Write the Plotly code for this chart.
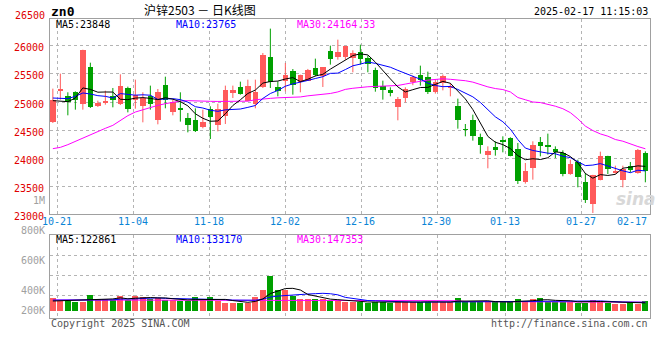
import plotly.graph_objects as go
import pandas as pd

# ---------------- data ----------------
dates = ["10-18","10-21","10-22","10-23","10-24","10-25","10-28","10-29","10-30","10-31",
         "11-01","11-04","11-05","11-06","11-07","11-08","11-11","11-12","11-13","11-14",
         "11-15","11-18","11-19","11-20","11-21","11-22","11-25","11-26","11-27","11-28",
         "11-29","12-02","12-03","12-04","12-05","12-06","12-09","12-10","12-11","12-12",
         "12-13","12-16","12-17","12-18","12-19","12-20","12-23","12-24","12-25","12-26",
         "12-27","12-30","12-31","01-02","01-03","01-06","01-07","01-08","01-09","01-10",
         "01-13","01-14","01-15","01-16","01-17","01-20","01-21","01-22","01-23","01-24",
         "01-27","02-05","02-06","02-07","02-10","02-11","02-12","02-13","02-14","02-17"]

opens = [24637,25202,25113,25173,24970,25631,24923,24976,25101,24958,
         25256,25030,24923,25113,24673,25309,24815,24887,24720,24685,
         24548,24875,24595,24744,25155,25268,25024,24970,25268,25809,
         25262,25369,25548,25351,25381,25607,25458,25905,25797,25797,
         25786,25887,25786,25565,25280,25220,24905,25065,25357,25488,
         25440,25173,25339,25262,24935,24512,24685,24369,24060,24196,
         24310,24357,24167,23566,23816,24286,24238,24155,24089,23720,
         23923,23577,23173,23613,24030,23740,23613,23851,23732,24089]
highs = [25238,25506,25173,25190,25934,25702,25024,25202,25250,25494,
         25274,25399,25173,25292,25232,25452,25048,25173,24804,24887,
         24863,24923,24970,25292,25292,25363,25399,25399,25875,26310,
         25369,25696,25589,25488,25590,25774,25619,26006,26113,26000,
         25923,26024,25830,25613,25381,25262,25089,25262,25470,25649,
         25542,25400,25490,25339,25060,24607,24774,24435,24208,24298,
         24387,24370,24268,23911,24298,24375,24435,24208,24137,23970,
         23970,23732,23700,24113,24040,23863,23863,23929,24160,24119]
lows = [24625,25042,24762,24863,24863,24893,24911,24952,24905,24946,
        24815,24881,24637,24863,24601,24887,24762,24649,24458,24464,
        24530,24339,24476,24607,25071,25131,25012,24887,25250,25250,
        25101,25190,25131,25173,25381,25458,25268,25667,25756,25756,
        25530,25667,25530,25184,25042,25101,24673,24994,25300,25292,
        25143,25150,25208,25101,24524,24387,24310,24077,23816,24042,
        24101,24030,23536,23542,23613,24030,24060,24000,23673,23700,
        23476,23197,23018,23601,23714,23720,23476,23740,23720,23566]
closes = [25042,25238,25006,25036,25934,24911,24988,25024,25030,25292,
          24875,25125,25071,24958,25184,25042,24994,24851,24583,24476,
          24643,24726,24881,25220,25220,25149,25292,25184,25845,25357,
          25190,25476,25309,25488,25565,25488,25619,25774,25887,25994,
          25869,25774,25679,25244,25208,25161,25054,25232,25446,25399,
          25173,25351,25470,25280,24673,24500,24399,24226,24131,24149,
          24292,24042,23595,23768,24238,24220,24203,24113,23708,23887,
          23655,23256,23690,24030,23810,23756,23804,23780,24149,23762]
volumes = [221,181,175,159,159,272,204,204,187,255,
           187,255,244,204,221,187,187,175,175,243,
           187,244,170,142,142,142,142,244,357,595,
           357,357,261,215,215,204,204,170,170,160,
           150,150,140,160,150,140,160,160,150,150,
           160,150,150,150,226,165,165,150,165,150,
           150,150,204,165,204,221,165,150,165,165,
           140,140,187,175,140,130,130,140,120,170]
volumes = [v * 1000 for v in volumes]

ma5_head = [25024, 25012, 25006, 25071]
ma10_head = [25071, 25071, 25060, 25101, 25161, 25143, 25113, 25101, 25071]
ma30 = [24167,24190,24238,24298,24357,24417,24476,24530,24583,24673,
        24756,24821,24863,24905,24940,24970,24994,25018,25024,25024,
        25024,25012,25010,25010,25012,25010,25015,25040,25058,25065,
        25075,25077,25078,25090,25110,25120,25135,25152,25180,25225,
        25245,25265,25272,25278,25282,25288,25295,25320,25350,25370,
        25390,25405,25415,25405,25398,25380,25355,25310,25270,25240,
        25222,25180,25080,25040,25000,24990,24960,24925,24880,24810,
        24700,24570,24490,24430,24390,24330,24300,24250,24205,24165]
vol_ma5_head = [170000, 175000, 178000, 180000]
vol_ma10_head = [185000, 185000, 185000, 185000, 185000, 185000, 186000, 187000, 190000]
vol_ma30 = [187000] * 45 + [175000] * 10 + [160000] * 10 + [150000] * 15

grid_dates = ["10-21", "11-04", "11-18", "12-02", "12-16", "12-30", "01-13", "01-27"]
last_date_label = "02-17"
price_ticks = [23000, 23500, 24000, 24500, 25000, 25500, 26000]
price_top_label = "26500"
vol_labels = ["800K", "600K", "400K", "200K"]
title_code = "zn0"
title_text = "沪锌2503 － 日K线图"
timestamp = "2025-02-17 11:15:03"
ma_texts = ["MA5:23848", "MA10:23765", "MA30:24164.33"]
vol_ma_texts = ["MA5:122861", "MA10:133170", "MA30:147353"]

# ---------------- helpers ----------------
W, H = 660, 360
PX_L, PX_R = 50, 650
def yp(px):
    return 1 - px / H
def xp(px):
    return px / W

RED = "#ff5a5a"
GREEN = "#00a000"
GRID = "#b4b4b4"
AXIS = "#a0a0a0"
MONO = "DejaVu Sans Mono"

n = len(closes)
idx = list(range(n))
c = pd.Series(closes, dtype=float)
ma5 = c.rolling(5).mean().tolist()
ma10 = c.rolling(10).mean().tolist()
ma5[:4] = ma5_head
ma10[:9] = ma10_head
v = pd.Series(volumes, dtype=float)
vma5 = v.rolling(5).mean().tolist()
vma10 = v.rolling(10).mean().tolist()
vma5[:4] = vol_ma5_head
vma10[:9] = vol_ma10_head

up = [closes[i] >= opens[i] for i in idx]

fig = go.Figure()

# wicks
for flag, col in ((True, RED), (False, GREEN)):
    xs, ys = [], []
    for i in idx:
        if up[i] == flag:
            xs += [i, i, None]
            ys += [lows[i], highs[i], None]
    fig.add_trace(go.Scatter(x=xs, y=ys, mode="lines", line=dict(color=col, width=1),
                             hoverinfo="skip", showlegend=False, xaxis="x", yaxis="y"))
# bodies
for flag, col in ((True, RED), (False, GREEN)):
    sel = [i for i in idx if up[i] == flag]
    fig.add_trace(go.Bar(x=sel,
                         base=[min(opens[i], closes[i]) for i in sel],
                         y=[max(abs(closes[i] - opens[i]), 12) for i in sel],
                         width=0.76, marker=dict(color=col, line=dict(width=0)),
                         showlegend=False, xaxis="x", yaxis="y"))
# moving averages
for arr, col in ((ma30, "#ff00ff"), (ma10, "#0000ff"), (ma5, "#000000")):
    fig.add_trace(go.Scatter(x=idx, y=arr, mode="lines", line=dict(color=col, width=1),
                             showlegend=False, xaxis="x", yaxis="y"))

# volume
fig.add_trace(go.Bar(x=idx, y=volumes, width=0.8,
                     marker=dict(color=[RED if u else GREEN for u in up], line=dict(width=0)),
                     showlegend=False, xaxis="x2", yaxis="y2"))
for arr, col in ((vol_ma30, "#ff00ff"), (vma10, "#0000ff"), (vma5, "#000000")):
    fig.add_trace(go.Scatter(x=idx, y=arr, mode="lines", line=dict(color=col, width=1),
                             showlegend=False, xaxis="x2", yaxis="y2"))

# the source chart spaces its date grid over (n-1) steps across the full width,
# while the candles use n equal slots
x0 = -0.38
xrange = [x0, n + x0]
grid_x = [dates.index(d) * n / (n - 1) + x0 for d in grid_dates]

VPX = 17000.0
vol_range = [-(318 - 311) * VPX, (311 - 234.7) * VPX]
vol_grid = [(311 - p) * VPX for p in (255.7, 275.3, 295.0)]

axis_common = dict(showline=True, linecolor=AXIS, linewidth=1, mirror=True,
                   zeroline=False, showgrid=True, gridcolor=GRID, griddash="dot", gridwidth=1)

fig.update_layout(
    width=W, height=H, margin=dict(l=0, r=0, t=0, b=0, pad=0, autoexpand=False),
    paper_bgcolor="white", plot_bgcolor="white", barmode="overlay", bargap=0,
    showlegend=False,
    xaxis=dict(domain=[xp(PX_L), xp(PX_R)], range=xrange, tickmode="array", tickvals=grid_x,
               showticklabels=False, ticks="", **axis_common),
    yaxis=dict(domain=[yp(214), yp(19)], range=[23000, 26482], tickmode="array",
               tickvals=price_ticks, ticktext=[str(t) for t in price_ticks],
               tickfont=dict(family=MONO, size=10, color="#e00000"), ticks="",
               ticklabelstandoff=3, ticklabelshift=2, **axis_common),
    xaxis2=dict(domain=[xp(PX_L), xp(PX_R)], range=xrange, tickmode="array", tickvals=grid_x,
                showticklabels=False, ticks="", anchor="y2", **axis_common),
    yaxis2=dict(domain=[yp(318), yp(234.7)], range=vol_range, tickmode="array",
                tickvals=vol_grid, showticklabels=False, ticks="", anchor="x2", **axis_common),
)

ann = []
def text(x, y, s, color="#000000", size=10, xanchor="left", family=MONO, xref="paper", **kw):
    ann.append(dict(x=x, y=y, xref=xref, yref="paper", text=s, showarrow=False,
                    xanchor=xanchor, yanchor="middle",
                    font=dict(family=family, size=size, color=color, **kw)))

# date labels, centred on their grid lines
for d, gx in zip(grid_dates, grid_x):
    text(gx - 0.12, yp(221.5), d, color="#0a84d6", xanchor="center", xref="x")
text(xp(648.5), yp(221.5), last_date_label, color="#0a84d6", xanchor="right")
# axis labels outside the boxes
text(xp(46.5), yp(16), price_top_label, color="#e00000", xanchor="right")
text(xp(46.5), yp(200.5), "1M", color="#a0a0a0", xanchor="right")
for lab, p in zip(vol_labels, (230.3, 260.3, 290.3, 310.3)):
    text(xp(46.5), yp(p), lab, color="#a0a0a0", xanchor="right")
# titles and legends
text(xp(49), yp(11), "<b>" + title_code + "</b>", size=13)
text(xp(200), yp(9.6), title_text, size=12, xanchor="center", family="Noto Sans CJK SC")
text(xp(649.5), yp(12), timestamp, xanchor="right")
for s, col, px in zip(ma_texts, ("#000000", "#0000ff", "#ff00ff"), (54, 174, 294.5)):
    text(xp(px), yp(24.2), s, color=col)
for s, col, px in zip(vol_ma_texts, ("#000000", "#0000ff", "#ff00ff"), (54, 174, 294.5)):
    text(xp(px), yp(239), s, color=col)
text(xp(49), yp(323.7), "Copyright 2025 SINA.COM", color="#555555")
text(xp(650), yp(323.7), "http://finance.sina.com.cn", color="#555555", xanchor="right")
# watermark
text(xp(636), yp(199), "<b><i>sina</i></b>", color="#d8d8d8", size=17, xanchor="center",
     family="DejaVu Sans")
fig.update_layout(annotations=ann)

fig.write_html("out.html", config={"displayModeBar": False},
               post_script="document.body.style.margin='0';document.body.style.padding='0';")
